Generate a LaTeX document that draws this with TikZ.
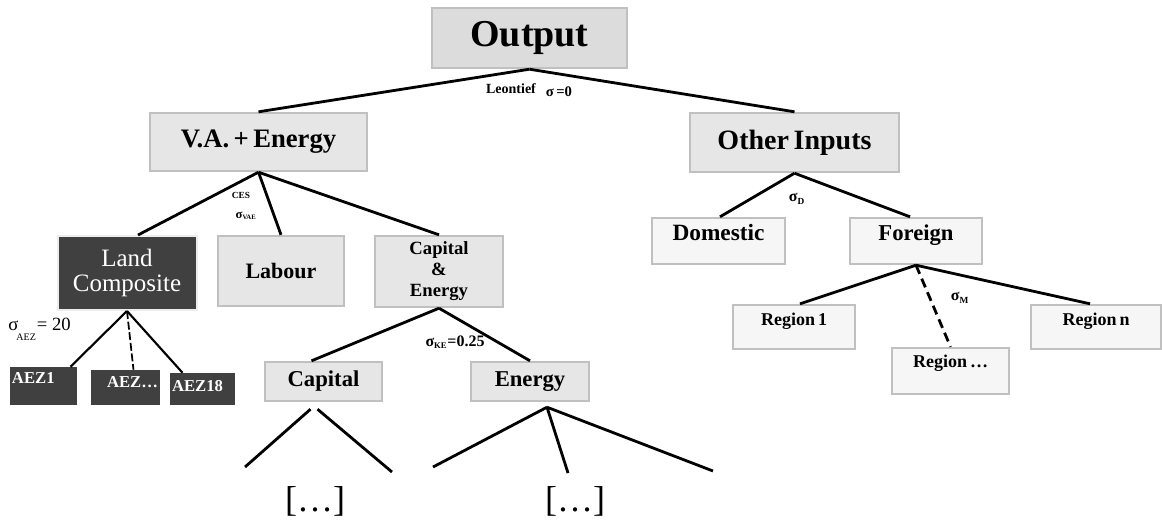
\documentclass[tikz,border=0pt]{standalone}
\usepackage{fontspec}
\setmainfont{Liberation Serif}
\usetikzlibrary{calc}

\definecolor{boxline}{RGB}{192,192,192}
\definecolor{boxfill}{RGB}{230,230,230}
\definecolor{topfill}{RGB}{220,220,220}
\definecolor{palefill}{RGB}{246,246,246}
\definecolor{darkfill}{RGB}{64,64,64}

\begin{document}
\begin{tikzpicture}
[x=0.75pt, y=-0.75pt,
    every node/.style={inner sep=0pt, align=center},
    boxdim/.style 2 args={minimum width=#1*0.75pt, minimum height=#2*0.75pt},
    greybox/.style={draw=boxline, line width=1.8pt, fill=boxfill},
    palebox/.style={greybox, fill=palefill},
    darkbox/.style={fill=darkfill, text=white},
    aezbox/.style={darkbox, inner xsep=1.5pt, align=left, font=\bfseries\fontsize{12.5}{13}\selectfont},
    topalign/.style 2 args={text height=#1*0.75pt, text depth=#2*0.75pt},
    branch/.style={line width=2.1pt},
    longdash/.style={dash pattern=on 7pt off 4pt},
    sig/.style={font=\bfseries\fontsize{12}{13}\selectfont},
    ]
    \useasboundingbox (0,0) rectangle (1162,522);

    % top levels
    \node[greybox, fill=topfill, boxdim={195}{60}, font=\bfseries\fontsize{28.5}{32}\selectfont] (output) at (529.5,38) {Output};
    \node[greybox, boxdim={217}{58}, font=\bfseries\fontsize{20}{22}\selectfont] (vae) at (258.5,142) {V.A.\,+\,Energy};
    \node[greybox, boxdim={209}{59}, font=\bfseries\fontsize{21}{23}\selectfont] (other) at (794.5,142.5) {Other\,Inputs};

    % value added branch
    \node[darkbox, draw=black!7, line width=1.5pt, boxdim={139}{74}, font=\fontsize{18.75}{19}\selectfont] (land) at (127,273) {Land\\Composite};
    \node[greybox, boxdim={126}{70}, font=\bfseries\fontsize{16.5}{18}\selectfont] (labour) at (281,271) {Labour};
    \node[greybox, boxdim={128}{71}, font=\bfseries\fontsize{14}{15.75}\selectfont] (capen) at (439,271.5) {Capital\\\&\\Energy};

    \node[aezbox, text width=63*0.75pt, topalign={16}{22}] (aez1) at (43.5,386) {AEZ1};
    \node[aezbox, text width=65*0.75pt, topalign={17}{18}] (aezdots) at (125.5,387.5) {\hspace{10.5pt}AEZ\ldots};
    \node[aezbox, text width=61*0.75pt, topalign={18}{14}] (aez18) at (202.5,389) {AEZ18};

    \node[greybox, boxdim={117}{39}, font=\bfseries\fontsize{17}{18}\selectfont] (capital) at (323.5,381.5) {Capital};
    \node[greybox, boxdim={118}{39}, font=\bfseries\fontsize{17}{18}\selectfont] (energy) at (530,381.5) {Energy};

    \node[font=\fontsize{27}{29}\selectfont] (capdots) at (315,501) {[\ldots]};
    \node[font=\fontsize{27}{29}\selectfont] (endots) at (575,501) {[\ldots]};

    % other inputs branch
    \node[palebox, boxdim={133}{46}, topalign={22}{24}, font=\bfseries\fontsize{17.5}{18}\selectfont] (domestic) at (718.5,241) {Domestic};
    \node[palebox, boxdim={132}{46}, topalign={22}{24}, font=\bfseries\fontsize{17}{18}\selectfont] (foreign) at (916,241) {Foreign};
    \node[palebox, boxdim={122}{44}, topalign={20}{24}, font=\bfseries\fontsize{13.5}{14}\selectfont] (region1) at (794,327) {Region\,1};
    \node[palebox, boxdim={117}{46}, topalign={19}{27}, font=\bfseries\fontsize{13.5}{14}\selectfont] (regiondots) at (950.5,371) {Region\,\ldots};
    \node[palebox, boxdim={130}{44}, topalign={20}{24}, font=\bfseries\fontsize{13.5}{14}\selectfont] (regionn) at (1096,327) {Region\,n};

    % elasticities
    \node[font=\bfseries\fontsize{10.5}{11}\selectfont] (leontief) at (511,89) {Leontief};
    \node[font=\bfseries\fontsize{11}{12}\selectfont] (sigout) at (559,92) {σ\,=0};
    \node[font=\bfseries\fontsize{7}{8}\selectfont] (ces) at (241,195) {CES};
    \node[font=\bfseries\fontsize{9.5}{10}\selectfont] (sigvae) at (246,216) {σ\textsubscript{\fontsize{5}{6}\selectfont VAE}};
    \node[font=\fontsize{14}{15}\selectfont, anchor=west] (sigaez) at (8,329) {σ\hspace{-0.1em}\raisebox{-1.2ex}{\fontsize{7.5}{8}\selectfont AEZ}\hspace{0.05em}= 20};
    \node[font=\bfseries\fontsize{12}{13}\selectfont] (sigke) at (455,342) {σ\textsubscript{\fontsize{6.5}{7}\selectfont KE}=0.25};
    \node[sig] (sigd) at (797,199) {σ\textsubscript{\fontsize{7}{8}\selectfont D}};
    \node[sig] (sigm) at (960,298) {σ\textsubscript{\fontsize{7}{8}\selectfont M}};

    % free ends below capital and energy
    \coordinate (capleft) at (245,467);
    \coordinate (capright) at (392,472);
    \coordinate (enleft) at (433,467);
    \coordinate (enmid) at (568,473);
    \coordinate (enright) at (713,471);

    \draw[branch] (output.south) -- (vae.north);
    \draw[branch] (output.south) -- (other.north);

    \draw[branch] (vae.south) -- ($(land.north)+(11,0)$);
    \draw[branch] (vae.south) -- (labour.north);
    \draw[branch] (vae.south) -- (capen.north);

    \draw[branch, line width=1.6pt] (land.south) -- ($(aez1.north)+(27,0)$);
    \draw[branch, line width=1.3pt, dash pattern=on 6pt off 2pt] (land.south) -- ($(aezdots.north)+(8,0)$);
    \draw[branch, line width=1.6pt] (land.south) -- ($(aez18.north)+(-20,0)$);

    \draw[branch] (capen.south) -- ($(capital.north)+(-12,0)$);
    \draw[branch] (capen.south) -- (energy.north);

    \draw[branch] ($(capital.south)+(-13,7)$) -- (capleft);
    \draw[branch] ($(capital.south)+(-6,7)$) -- (capright);
    \draw[branch] ($(energy.south)+(17,5)$) -- (enleft);
    \draw[branch] ($(energy.south)+(17,5)$) -- (enmid);
    \draw[branch] ($(energy.south)+(17,5)$) -- (enright);

    \draw[branch] (other.south) -- ($(domestic.north)+(1.5,0)$);
    \draw[branch] (other.south) -- ($(foreign.north)+(-6,0)$);

    \draw[branch] (foreign.south) -- ($(region1.north)+(6,0)$);
    \draw[branch, longdash] (foreign.south) -- (regiondots.north);
    \draw[branch] (foreign.south) -- ($(regionn.north)+(-6,0)$);

\end{tikzpicture}
\end{document}
